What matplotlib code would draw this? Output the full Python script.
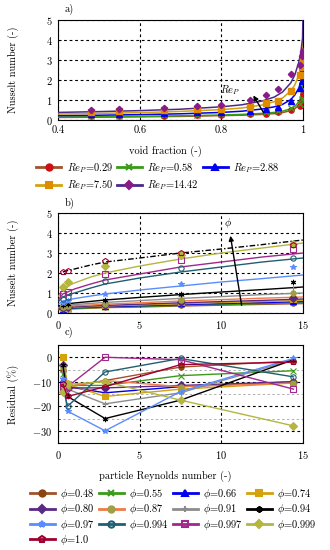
import numpy as np
import matplotlib
matplotlib.use("Agg")
import matplotlib.pyplot as plt

plt.rcParams.update({"font.family": "cmr10", "mathtext.fontset": "cm",
                     "axes.formatter.use_mathtext": True, "font.size": 7.5,
                     "axes.unicode_minus": True})

# ---- data ----
rep = [0.29, 0.58, 2.88, 7.50, 14.42]
phi = [0.48, 0.55, 0.66, 0.74, 0.80, 0.87, 0.91, 0.94, 0.97, 0.994, 0.997, 0.999, 1.0]
phi_lbl = ["0.48", "0.55", "0.66", "0.74", "0.80", "0.87", "0.91", "0.94", "0.97",
           "0.994", "0.997", "0.999", "1.0"]

# measured Nusselt number, rows = phi, cols = rep
nu_exp = [
    [0.18, 0.20, 0.30, 0.40, 0.50],
    [0.19, 0.22, 0.32, 0.44, 0.55],
    [0.21, 0.24, 0.35, 0.48, 0.60],
    [0.23, 0.27, 0.38, 0.53, 0.68],
    [0.25, 0.29, 0.40, 0.56, 0.75],
    [0.28, 0.33, 0.46, 0.66, 1.00],
    [0.32, 0.38, 0.55, 0.85, 1.25],
    [0.38, 0.45, 0.65, 0.95, 1.55],
    [0.50, 0.62, 0.95, 1.45, 2.30],
    [0.72, 0.82, 1.60, 2.25, 2.75],
    [0.95, 1.05, 1.95, 2.65, 3.20],
    [1.30, 1.55, 2.35, 2.90, 3.45],
    [2.05, 2.10, 2.60, 3.00, 3.40],
]

# model curves vs void fraction (panel a), one per rep
phi_m = [0.4, 0.5, 0.6, 0.7, 0.8, 0.85, 0.9, 0.93, 0.95, 0.97, 0.98, 0.99, 0.995, 0.999, 1.0]
nu_phi_model = [
    [0.13, 0.14, 0.16, 0.18, 0.22, 0.24, 0.28, 0.32, 0.37, 0.47, 0.56, 0.75, 0.95, 1.35, 2.0],
    [0.15, 0.16, 0.18, 0.21, 0.25, 0.28, 0.33, 0.38, 0.44, 0.56, 0.68, 0.90, 1.15, 1.60, 2.3],
    [0.22, 0.24, 0.27, 0.31, 0.38, 0.44, 0.55, 0.66, 0.78, 1.02, 1.25, 1.60, 1.95, 2.45, 3.3],
    [0.30, 0.33, 0.37, 0.43, 0.52, 0.60, 0.75, 0.92, 1.10, 1.45, 1.75, 2.25, 2.65, 3.20, 4.2],
    [0.38, 0.42, 0.47, 0.54, 0.66, 0.76, 0.95, 1.15, 1.40, 1.85, 2.25, 2.90, 3.40, 4.10, 5.2],
]

# model curves vs particle Reynolds number (panel b), one per phi
re_m = [0.05, 0.29, 0.58, 1, 2, 2.88, 5, 7.5, 10, 12.5, 15]
nu_re_model = [
    [0.16, 0.19, 0.20, 0.21, 0.24, 0.27, 0.30, 0.35, 0.39, 0.43, 0.47],
    [0.18, 0.20, 0.22, 0.23, 0.26, 0.29, 0.33, 0.38, 0.42, 0.47, 0.51],
    [0.20, 0.23, 0.24, 0.26, 0.29, 0.32, 0.36, 0.42, 0.47, 0.52, 0.57],
    [0.22, 0.25, 0.27, 0.29, 0.32, 0.35, 0.40, 0.46, 0.52, 0.57, 0.63],
    [0.24, 0.27, 0.29, 0.31, 0.35, 0.38, 0.44, 0.51, 0.57, 0.63, 0.70],
    [0.27, 0.31, 0.33, 0.36, 0.40, 0.44, 0.51, 0.60, 0.67, 0.74, 0.80],
    [0.30, 0.36, 0.39, 0.42, 0.48, 0.53, 0.62, 0.73, 0.82, 0.92, 1.00],
    [0.35, 0.42, 0.46, 0.50, 0.58, 0.65, 0.78, 0.92, 1.05, 1.17, 1.30],
    [0.45, 0.60, 0.65, 0.72, 0.85, 0.95, 1.15, 1.35, 1.55, 1.72, 1.90],
    [0.60, 0.80, 0.90, 1.00, 1.25, 1.45, 1.75, 2.05, 2.30, 2.55, 2.75],
    [0.70, 0.95, 1.05, 1.20, 1.45, 1.65, 1.95, 2.30, 2.55, 2.80, 3.00],
    [0.85, 1.20, 1.35, 1.50, 1.80, 2.00, 2.35, 2.70, 3.00, 3.25, 3.50],
    [np.nan, 2.05, 2.12, 2.20, 2.40, 2.55, 2.75, 3.00, 3.20, 3.42, 3.65],
]

# residual (%), rows = phi, cols = rep
resid = [
    [-5, -12, -9.5, -4, -1.5],
    [-7, -11.5, -11.5, -7.5, -5.5],
    [-9, -12, -14.5, -12, -10],
    [0, -11, -16, -13, -10.5],
    [-3, -12.5, -12.5, -11.5, -10],
    [-4, -12, -9.5, -12, -10.5],
    [-6, -13, -19, -14.5, -1],
    [-3, -16, -25, -17.5, -1],
    [-9, -22, -30, -14, -0.5],
    [-12, -20, -6, -0.5, -8],
    [-12, -12, 0, -1, -13],
    [-14, -11, -10, -17.5, -28],
    [-11, -16, -12, -3, -2],
]

# ---- styles ----
RE_LC = ["#a0522d", "#3a9a1a", "#0000ee", "#d4a20c", "#4b2a8a"]
RE_MC = ["#d01010", "#3a9a1a", "#0000ee", "#e08a00", "#8a1a8a"]
RE_MK = ["o", "x", "^", "s", "D"]

PH_LC = ["#a0522d", "#3a9a1a", "#0000ee", "#d4a20c", "#5b2a86", "#f07a4a", "#8c8c8c",
         "#000000", "#5b8cff", "#1f5f70", "#a0288c", "#b5b540", "#a00030"]
PH_MC = ["#8b4513", "#3a9a1a", "#0000ee", "#d4a20c", "#5b2a86", "#a0a040", "#8c8c8c",
         "#000000", "#5b8cff", "#1f5f70", "#a0288c", "#b5b540", "#a00030"]
PH_MK = ["o", "x", "^", "s", "D", "o", "+", (6, 2, 0), "*", "o", "s", "D", "p"]
PH_OPEN = [False] * 9 + [True, True, False, True]

fig = plt.figure(figsize=(3.3, 5.5), dpi=100)
L, W = 0.176, 0.742
axa = fig.add_axes([L, 0.7818, W, 0.1818])
axb = fig.add_axes([L, 0.4309, W, 0.1818])
axc = fig.add_axes([L, 0.1945, W, 0.1782])

def style(ax):
    ax.tick_params(direction="in", length=2, width=0.6, labelsize=7.5, pad=4)
    for s in ax.spines.values():
        s.set_linewidth(0.8)
    ax.grid(True, which="major", color="k", ls=(0, (2.5, 2.5)), lw=0.8)

def row_major(items, ncol):
    # legend fills column by column; reorder so it reads row by row
    return [items[i] for c in range(ncol) for i in range(c, len(items), ncol)]

# ---- a) ----
nu = np.array(nu_exp)
for j in range(len(rep)):
    axa.plot(phi_m, nu_phi_model[j], color=RE_LC[j], lw=1.1, zorder=3)
    ms = 3.2 if RE_MK[j] == "D" else 3.8
    axa.plot(phi, nu[:, j], ls="none", marker=RE_MK[j], ms=ms, color=RE_MC[j],
             mew=1.0, zorder=4)
axa.set_xlim(0.4, 1.0); axa.set_ylim(0, 5)
axa.set_xticks([0.4, 0.6, 0.8, 1.0]); axa.set_xticklabels(["0.4", "0.6", "0.8", "1"])
axa.set_yticks([0, 1, 2, 3, 4, 5])
style(axa)
axa.annotate("", xy=(0.875, 1.35), xytext=(0.907, 0.25),
             arrowprops=dict(arrowstyle="-|>", color="k", lw=1.0, mutation_scale=7), zorder=6)
axa.text(0.822, 1.5, r"$Re_P$", fontsize=7.5, ha="center", va="center", zorder=6)
axa.set_ylabel("Nusselt number (-)", fontsize=7.5)
axa.yaxis.set_label_coords(-0.16, 0.5)
fig.text(0.197, 0.982, "a)", fontsize=7.5, va="center")
fig.text(0.5, 1 - 151 / 550, "void fraction (-)", fontsize=7.5, ha="center", va="center")

hs = [plt.Line2D([], [], color=RE_LC[j], lw=2, marker=RE_MK[j], ms=4.5, mfc=RE_MC[j],
                 mec=RE_MC[j], mew=1.5) for j in range(len(rep))]
lb = [r"$Re_P$=%.2f" % r for r in rep]
fig.legend(row_major(hs, 3), row_major(lb, 3), loc="upper left", ncol=3,
           bbox_to_anchor=(0.11, 1 - 161 / 550), frameon=False, fontsize=7.5,
           handlelength=2.4, handletextpad=0.5, columnspacing=0.4, labelspacing=0.35,
           borderpad=0, borderaxespad=0)

# ---- b) ----
for i in range(len(phi)):
    if i == len(phi) - 1:
        axb.plot(re_m, nu_re_model[i], color="k", lw=1.0, ls=(0, (4, 1.5, 1, 1.5)), zorder=3)
    else:
        axb.plot(re_m, nu_re_model[i], color=PH_LC[i], lw=1.0, zorder=3)
    mfc = "none" if PH_OPEN[i] else PH_MC[i]
    axb.plot(rep, nu[i], ls="none", marker=PH_MK[i], ms=3.8, color=PH_MC[i], mfc=mfc,
             mew=0.8, zorder=4)
axb.set_xlim(0, 15); axb.set_ylim(0, 5)
axb.set_xticks([0, 5, 10, 15]); axb.set_yticks([0, 1, 2, 3, 4, 5])
style(axb)
axb.annotate("", xy=(10.53, 4.0), xytext=(11.27, 0.25),
             arrowprops=dict(arrowstyle="-|>", color="k", lw=1.0, mutation_scale=7), zorder=6)
axb.text(10.4, 4.5, r"$\phi$", fontsize=7.5, ha="center", va="center", zorder=6)
axb.set_ylabel("Nusselt number (-)", fontsize=7.5)
axb.yaxis.set_label_coords(-0.16, 0.5)
fig.text(0.197, 1 - 203 / 550, "b)", fontsize=7.5, va="center")

# ---- c) ----
for i in range(len(phi)):
    mfc = "none" if PH_OPEN[i] else PH_MC[i]
    axc.plot(rep, resid[i], color=PH_LC[i], lw=1.0, marker=PH_MK[i], ms=3.8,
             mfc=mfc, mec=PH_MC[i], mew=0.8, zorder=3)
axc.set_xlim(0, 15); axc.set_ylim(-35, 5)
axc.set_xticks([0, 5, 10, 15]); axc.set_yticks([-30, -20, -10, 0])
axc.set_yticks([-25, -15, -5], minor=True)
style(axc)
axc.tick_params(which="minor", direction="in", length=1.2, width=0.5)
axc.grid(True, which="minor", axis="y", color="#b0b0b0", ls=(0, (2.5, 2.5)), lw=0.7)
axc.set_ylabel("Residual (%)", fontsize=7.5)
axc.yaxis.set_label_coords(-0.16, 0.5)
fig.text(0.197, 1 - 332 / 550, "c)", fontsize=7.5, va="center")
fig.text(0.5, 1 - 476 / 550, "particle Reynolds number (-)", fontsize=7.5,
         ha="center", va="center")

hs = []
for i in range(len(phi)):
    mfc = "none" if PH_OPEN[i] else PH_MC[i]
    hs.append(plt.Line2D([], [], color=PH_LC[i], lw=2, marker=PH_MK[i], ms=4.5,
                         mfc=mfc, mec=PH_MC[i], mew=1.5))
lb = [r"$\phi$=" + s for s in phi_lbl]
fig.legend(row_major(hs, 4), row_major(lb, 4), loc="upper left", ncol=4,
           bbox_to_anchor=(0.09, 1 - 487 / 550), frameon=False, fontsize=7.5,
           handlelength=2.4, handletextpad=0.5, columnspacing=0.4, labelspacing=0.12,
           borderpad=0, borderaxespad=0)

fig.savefig("out.png", dpi=100, facecolor="white")
